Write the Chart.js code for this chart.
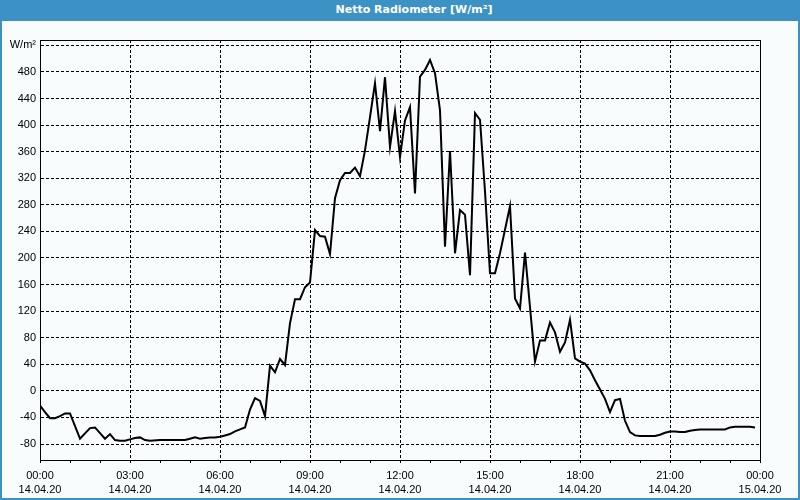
<!DOCTYPE html>
<html>
<head>
<meta charset="utf-8">
<script src="https://cdn.jsdelivr.net/npm/chart.js@4"></script>
<style>
  html, body { margin: 0; padding: 0; background: #ffffff; }
  #wrap { position: relative; width: 800px; height: 500px; background: #3d92c5; overflow: hidden; }
  #title { position: absolute; left: 28px; top: 3px; width: 772px; height: 18px; line-height: 18px;
           text-align: center; color: #ffffff; font: bold 11px "DejaVu Sans", Verdana, sans-serif; }
  #plot { position: absolute; left: 2px; top: 21px; width: 796px; height: 477px; background: #f8fcfc; }
  canvas { display: block; }
</style>
</head>
<body>
<div id="wrap">
  <div id="title">Netto Radiometer [W/m²]</div>
  <div id="plot"><canvas id="c" width="796" height="477"></canvas></div>
</div>
<script>
// Time of each reading, minutes after 00:00 on 14.04.20
const minutes = [0,10,20,30,40,50,60,80,90,100,110,130,140,150,160,170,180,190,200,210,220,240,290,300,310,320,330,340,350,360,370,380,390,400,410,420,430,440,450,460,470,480,490,500,510,520,530,540,550,560,570,580,590,600,610,620,630,640,650,660,670,680,690,700,710,720,730,740,750,760,770,780,790,800,810,820,830,840,850,860,870,880,890,900,910,920,940,950,960,970,990,1000,1010,1020,1030,1040,1050,1060,1070,1080,1090,1100,1110,1120,1130,1140,1150,1160,1170,1180,1190,1200,1230,1240,1250,1260,1270,1280,1290,1300,1310,1320,1370,1380,1390,1400,1420,1430];
// Net radiation, W/m²
const netRadiation = [-22,-32,-41,-41,-38,-34,-34,-72,-64,-56,-55,-72,-65,-74,-75,-75,-73,-71,-70,-74,-75,-74,-74,-72,-70,-72,-71,-70,-70,-69,-67,-65,-61,-58,-55,-28,-11,-15,-38,38,28,48,39,102,138,138,156,163,242,233,232,206,290,317,328,328,336,323,362,412,463,391,472,367,421,352,407,427,297,473,483,498,478,422,217,361,207,272,265,174,418,408,300,177,177,207,278,139,124,208,44,76,76,103,88,59,73,107,49,44,41,31,16,2,-12,-32,-14,-12,-45,-62,-67,-68,-68,-66,-63,-61,-61,-62,-62,-60,-59,-58,-58,-55,-54,-54,-54,-55];

// Axis labels
const xTickMinutes = [0,180,360,540,720,900,1080,1260,1440];
const xTickTimes = ['00:00','03:00','06:00','09:00','12:00','15:00','18:00','21:00','00:00'];
const xTickDates = ['14.04.20','14.04.20','14.04.20','14.04.20','14.04.20','14.04.20','14.04.20','14.04.20','15.04.20'];
const yTickValues = [-80,-40,0,40,80,120,160,200,240,280,320,360,400,440,480,520];
const yUnitValue = 520;
const yUnitLabel = 'W/m²';
const yMin = -104, yMax = 528;

const points = minutes.map((m, i) => ({ x: m, y: netRadiation[i] }));

const frame = {
  id: 'frame',
  afterDraw(chart) {
    const a = chart.chartArea, ctx = chart.ctx;
    ctx.save();
    ctx.strokeStyle = '#000';
    ctx.lineWidth = 1;
    ctx.setLineDash([]);
    ctx.strokeRect(Math.round(a.left) + 0.5, Math.round(a.top) + 0.5,
                   Math.round(a.right - a.left), Math.round(a.bottom - a.top));
    ctx.restore();
  }
};

const font = { family: '"Liberation Sans", Arial, sans-serif', size: 11, lineHeight: 1.3 };

new Chart(document.getElementById('c'), {
  type: 'line',
  data: {
    datasets: [{
      data: points,
      borderColor: '#000',
      borderWidth: 2,
      pointRadius: 0,
      tension: 0,
      fill: false
    }]
  },
  options: {
    responsive: false,
    animation: false,
    events: [],
    layout: { padding: { top: 19, right: 38, left: 0, bottom: 0 } },
    plugins: { legend: { display: false }, tooltip: { enabled: false }, title: { display: false } },
    scales: {
      x: {
        type: 'linear',
        min: 0, max: 1440,
        afterFit(s) { s.height = 38; },
        afterBuildTicks(s) {
          const t = [];
          for (let m = 0; m <= 1440; m += 60) t.push({ value: m });
          s.ticks = t;
        },
        ticks: {
          autoSkip: false, maxRotation: 0, color: '#000', font, padding: 6,
          callback(v) {
            const i = xTickMinutes.indexOf(v);
            return i >= 0 ? [xTickTimes[i], xTickDates[i]] : '';
          }
        },
        grid: {
          color: ctx => (ctx.tick && ctx.tick.value % 180 === 0 && ctx.tick.value > 0 && ctx.tick.value < 1440) ? '#000' : 'rgba(0,0,0,0)',
          tickColor: '#000', tickLength: 3, lineWidth: 1, tickBorderDash: []
        },
        border: { display: true, color: '#000', dash: [3, 2] }
      },
      y: {
        type: 'linear',
        min: yMin, max: yMax,
        afterFit(s) { s.width = 38; },
        afterBuildTicks(s) { s.ticks = yTickValues.map(v => ({ value: v })); },
        ticks: {
          autoSkip: false, color: '#000', font, padding: 4,
          callback(v) { return v === yUnitValue ? yUnitLabel : String(v); }
        },
        grid: { color: '#000', drawTicks: false, lineWidth: 1 },
        border: { display: true, color: '#000', dash: [3, 2] }
      }
    }
  },
  plugins: [frame]
});
</script>
</body>
</html>
